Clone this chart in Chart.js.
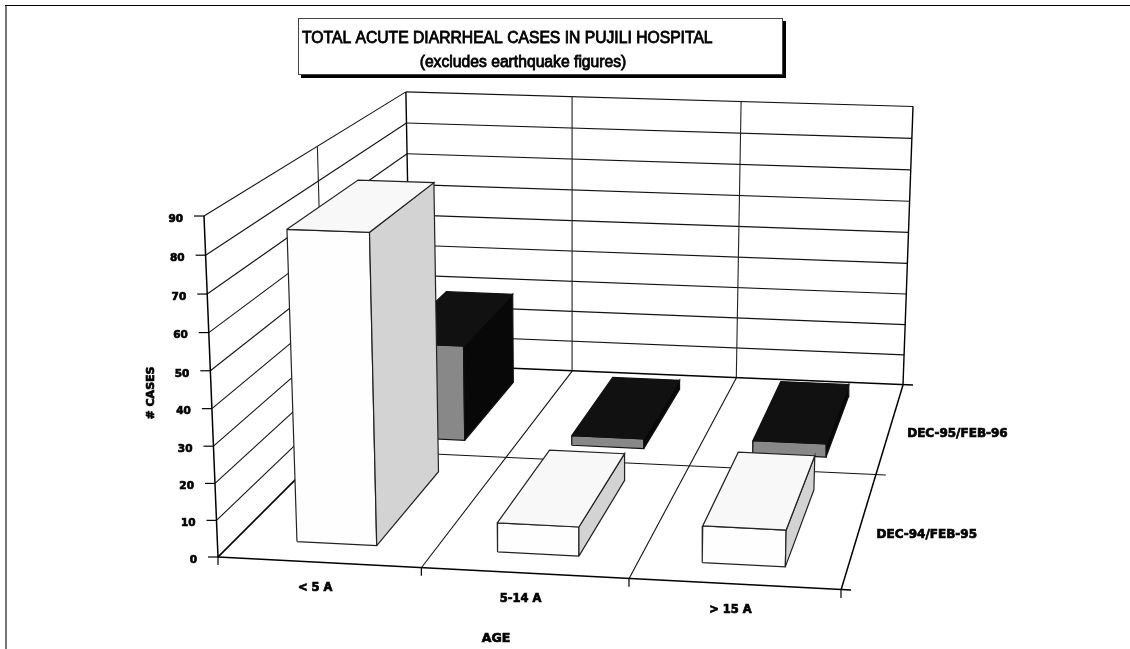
<!DOCTYPE html>
<html lang="en">
<head>
  <meta charset="UTF-8">
  <title>Total acute diarrheal cases in Pujili hospital</title>
  <script src="https://cdn.jsdelivr.net/npm/chart.js"></script>
  <style>
    html, body { margin: 0; padding: 0; background: #fff; }
    #wrap { width: 1130px; height: 649px; position: relative; }
  </style>
</head>
<body>
  <div id="wrap"><canvas id="chart" width="1130" height="649"></canvas></div>
  <script>
    const ageGroups = ['< 5 A', '5-14 A', '> 15 A'];
    const periods = ['DEC-94/FEB-95', 'DEC-95/FEB-96'];
    const casesDec94 = [84, 8, 10];
    const casesDec95 = [29, 3, 4];
    const valueTicks = [0, 10, 20, 30, 40, 50, 60, 70, 80, 90];

    // the box the 3D axes sit in, as it lands on the page
    const floorFL = [218, 557], floorFR = [841, 590], floorBR = [903, 385], floorBL = [411, 364];
    const vanish = [580, 9370];
    const perZ = -0.03725 / 90;

    // floor homography, unit square -> page
    function makeFloor() {
      const [x0, y0] = floorFL, [x1, y1] = floorFR, [x2, y2] = floorBR, [x3, y3] = floorBL;
      const dx1 = x1 - x2, dx2 = x3 - x2, sx = x0 - x1 + x2 - x3;
      const dy1 = y1 - y2, dy2 = y3 - y2, sy = y0 - y1 + y2 - y3;
      const den = dx1 * dy2 - dx2 * dy1;
      const g = (sx * dy2 - dx2 * sy) / den, h = (dx1 * sy - sx * dy1) / den;
      return { a: x1 - x0 + g * x1, b: x3 - x0 + h * x3, c: x0, d: y1 - y0 + g * y1, e: y3 - y0 + h * y3, f: y0, g, h };
    }
    const F = makeFloor();

    // u = 0..3 along age groups, v = 0..2 into the depth, w = cases
    function project(u, v, w) {
      const s = u / ageGroups.length, t = v / periods.length, k = w * perZ;
      const d = F.g * s + F.h * t + 1 + k;
      return {
        x: (F.a * s + F.b * t + F.c + k * vanish[0]) / d,
        y: (F.d * s + F.e * t + F.f + k * vanish[1]) / d
      };
    }

    const datasets = [];
    function addLine(points, color, width) {
      datasets.push({ data: points, borderColor: color || '#000', borderWidth: width || 1, fill: false });
    }
    function addFace(points, bg, edge) {
      datasets.push({ data: points.concat([points[0]]), backgroundColor: bg, borderColor: edge, borderWidth: 1.2, fill: 'shape' });
    }
    function shift(p, dx, dy) { return { x: p.x + dx, y: p.y + dy }; }

    // walls and floor
    valueTicks.forEach(w => {
      if (w > 0) addLine([project(0, 2, w), project(3, 2, w)], '#111', 1.1);
      addLine([project(0, 0, w), project(0, 2, w)], '#111', 1.1);
      addLine([shift(project(0, 0, w), -10, 0), project(0, 0, w)], '#000', 1.2);
    });
    [0, 1, 2, 3].forEach(u => addLine([project(u, 2, 0), project(u, 2, 90)], u === 0 || u === 3 ? '#000' : '#222', u === 0 || u === 3 ? 1.4 : 1.1));
    addLine([project(0, 1, 0), project(0, 1, 90)], '#222', 1.1);
    addLine([project(0, 0, 0), project(0, 0, 90)], '#000', 1.5);
    addLine([project(1, 0, 0), project(1, 2, 0)], '#111', 1.1);
    addLine([project(2, 0, 0), project(2, 2, 0)], '#111', 1.1);
    addLine([project(0, 1, 0), shift(project(3, 1, 0), 10, 0)], '#111', 1.1);
    addLine([project(0, 0, 0), project(0, 2, 0)], '#000', 1.5);
    addLine([project(0, 2, 0), shift(project(3, 2, 0), 10, 0)], '#000', 1.4);
    addLine([project(0, 0, 0), shift(project(3, 0, 0), 10, 0)], '#000', 1.5);
    addLine([project(3, 0, 0), project(3, 2, 0)], '#000', 1.5);
    [0, 1, 2, 3].forEach(u => addLine([project(u, 0, 0), shift(project(u, 0, 0), 0, 8)], '#000', 1.2));

    // bars, back row first
    const BAR_U0 = 0.305, BAR_U1 = 0.705, BAR_V0 = 0.155, BAR_V1 = 0.83;
    function addBar(cat, row, val, colors) {
      const u0 = cat + BAR_U0, u1 = cat + BAR_U1, v0 = row + BAR_V0, v1 = row + BAR_V1;
      addFace([project(u0, v0, 0), project(u1, v0, 0), project(u1, v0, val), project(u0, v0, val)], colors.front, colors.edge);
      addFace([project(u1, v0, 0), project(u1, v1, 0), project(u1, v1, val), project(u1, v0, val)], colors.side, colors.edge);
      addFace([project(u0, v0, val), project(u1, v0, val), project(u1, v1, val), project(u0, v1, val)], colors.top, colors.edge);
    }
    const darkBar = { front: '#888888', side: '#080808', top: '#111111', edge: '#111' };
    const lightBar = { front: '#fefefe', side: '#d3d3d3', top: '#f8f8f8', edge: '#222' };
    casesDec95.forEach((val, i) => addBar(i, 1, val, darkBar));
    casesDec94.forEach((val, i) => addBar(i, 0, val, lightBar));

    // Chart.js paints the highest order first
    datasets.forEach((d, i) => { d.order = datasets.length - i; });

    function label(ctx, text, x, y, align) {
      ctx.textAlign = align || 'center';
      ctx.textBaseline = 'middle';
      ctx.strokeText(text, x, y);
      ctx.fillText(text, x, y);
    }

    const textPlugin = {
      id: 'chartText',
      afterDraw(chart) {
        const ctx = chart.ctx;
        ctx.save();
        // page frame, only top and left were printed
        ctx.fillStyle = '#777';
        ctx.fillRect(5, 5, 2, 644);
        ctx.fillStyle = '#000';
        ctx.fillRect(5, 5, 1125, 1);
        // title box with shadow
        ctx.fillStyle = '#000';
        ctx.fillRect(301, 21, 485, 57);
        ctx.fillStyle = '#fff';
        ctx.fillRect(298, 18, 485, 57);
        ctx.strokeStyle = '#444';
        ctx.lineWidth = 1;
        ctx.strokeRect(298.5, 18.5, 484, 56);

        ctx.fillStyle = '#000';
        ctx.strokeStyle = '#000';
        ctx.lineWidth = 0.8;
        ctx.font = '15.7px "Liberation Sans"';
        label(ctx, 'TOTAL ACUTE DIARRHEAL CASES IN PUJILI HOSPITAL', 302, 39, 'left');
        label(ctx, '(excludes earthquake figures)', 523, 63);

        ctx.lineWidth = 0.7;
        ctx.font = 'bold 10.5px "DejaVu Sans"';
        valueTicks.forEach(w => {
          const p = project(0, 0, w);
          label(ctx, String(w), p.x - 21, p.y + 3, 'right');
        });
        ctx.font = 'bold 11.5px "DejaVu Sans"';
        ageGroups.forEach((name, i) => {
          const p = project(i + 0.5, 0, 0);
          label(ctx, name, p.x - 4, p.y + 26);
        });
        ctx.font = 'bold 12px "DejaVu Sans"';
        periods.forEach((name, i) => {
          const p = project(3, i + 0.5, 0);
          label(ctx, name, p.x + 17, p.y + 6, 'left');
        });
        ctx.font = 'bold 12.5px "DejaVu Sans"';
        label(ctx, 'AGE', 496, 639);
        ctx.font = 'bold 11px "DejaVu Sans"';
        ctx.translate(151, 393);
        ctx.rotate(-Math.PI / 2);
        label(ctx, '# CASES', 0, 0);
        ctx.restore();
      }
    };

    new Chart(document.getElementById('chart'), {
      type: 'scatter',
      data: { datasets },
      plugins: [textPlugin],
      options: {
        responsive: false,
        animation: false,
        showLine: true,
        layout: { padding: 0 },
        elements: { point: { radius: 0 }, line: { tension: 0 } },
        plugins: { legend: { display: false }, tooltip: { enabled: false } },
        scales: {
          x: { type: 'linear', min: 0, max: 1130, display: false },
          y: { type: 'linear', min: 0, max: 649, reverse: true, display: false }
        }
      }
    });
  </script>
</body>
</html>
